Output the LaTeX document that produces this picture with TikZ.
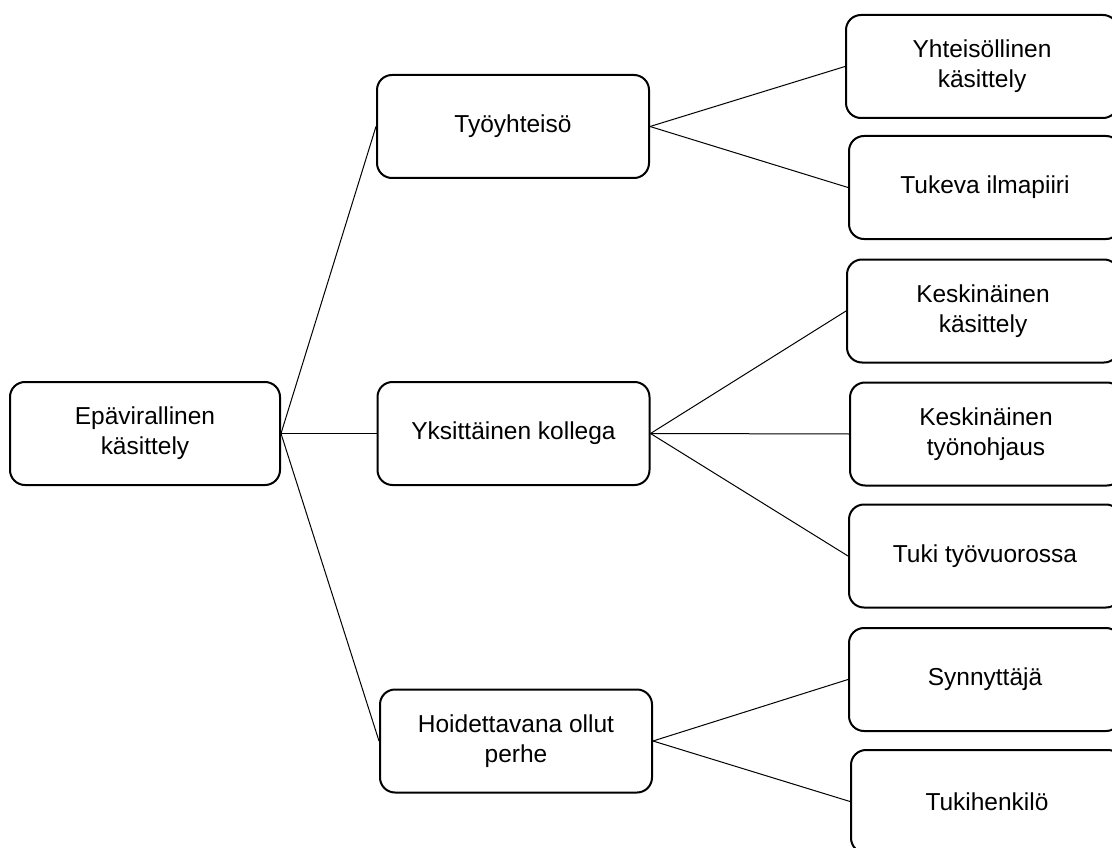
\documentclass[tikz,border=0pt]{standalone}
\usepackage{fontspec}
\setmainfont{Liberation Sans}
\begin{document}
\begin{tikzpicture}[x=1pt,y=-1pt,
  box/.style={draw=black, line width=2pt, rounded corners=15pt, fill=white,
    minimum width=#1, minimum height=103pt, inner sep=0pt, align=center,
    font=\fontsize{24.5pt}{30pt}\selectfont},
  box/.default=272pt,
  link/.style={draw=black, line width=1pt}]
\clip (0,0) rectangle (1112,848);
\fill[white] (0,0) rectangle (1112,848);

% root
\node[box=270pt] (root) at (145,433.5) {Epävirallinen\\käsittely};

% middle column
\node[box] (tyo) at (513,126.5) {Työyhteisö};
\node[box] (yks) at (513.5,433.5) {Yksittäinen kollega};
\node[box] (hoi) at (516,741) {Hoidettavana ollut\\perhe};

% right column
\node[box] (yht)  at (982,66.5)  {Yhteisöllinen\\käsittely};
\node[box] (tuk)  at (985,187.5) {Tukeva ilmapiiri};
\node[box] (kk)   at (983,311)   {Keskinäinen\\käsittely};
\node[box] (kt)   at (986,434)   {Keskinäinen\\työnohjaus};
\node[box] (tt)   at (985,556)   {Tuki työvuorossa};
\node[box] (syn)  at (985,679.5) {Synnyttäjä};
\node[box] (tukh) at (987,801.5) {Tukihenkilö};

% connectors
\draw[link] (root.east) -- (tyo.west);
\draw[link] (root.east) -- (yks.west);
\draw[link] (root.east) -- (hoi.west);
\draw[link] (tyo.east) -- (yht.west);
\draw[link] (tyo.east) -- (tuk.west);
\draw[link] (yks.east) -- (kk.west);
\draw[link] (yks.east) -- (kt.west);
\draw[link] (yks.east) -- (tt.west);
\draw[link] (hoi.east) -- (syn.west);
\draw[link] (hoi.east) -- (tukh.west);
\end{tikzpicture}
\end{document}
